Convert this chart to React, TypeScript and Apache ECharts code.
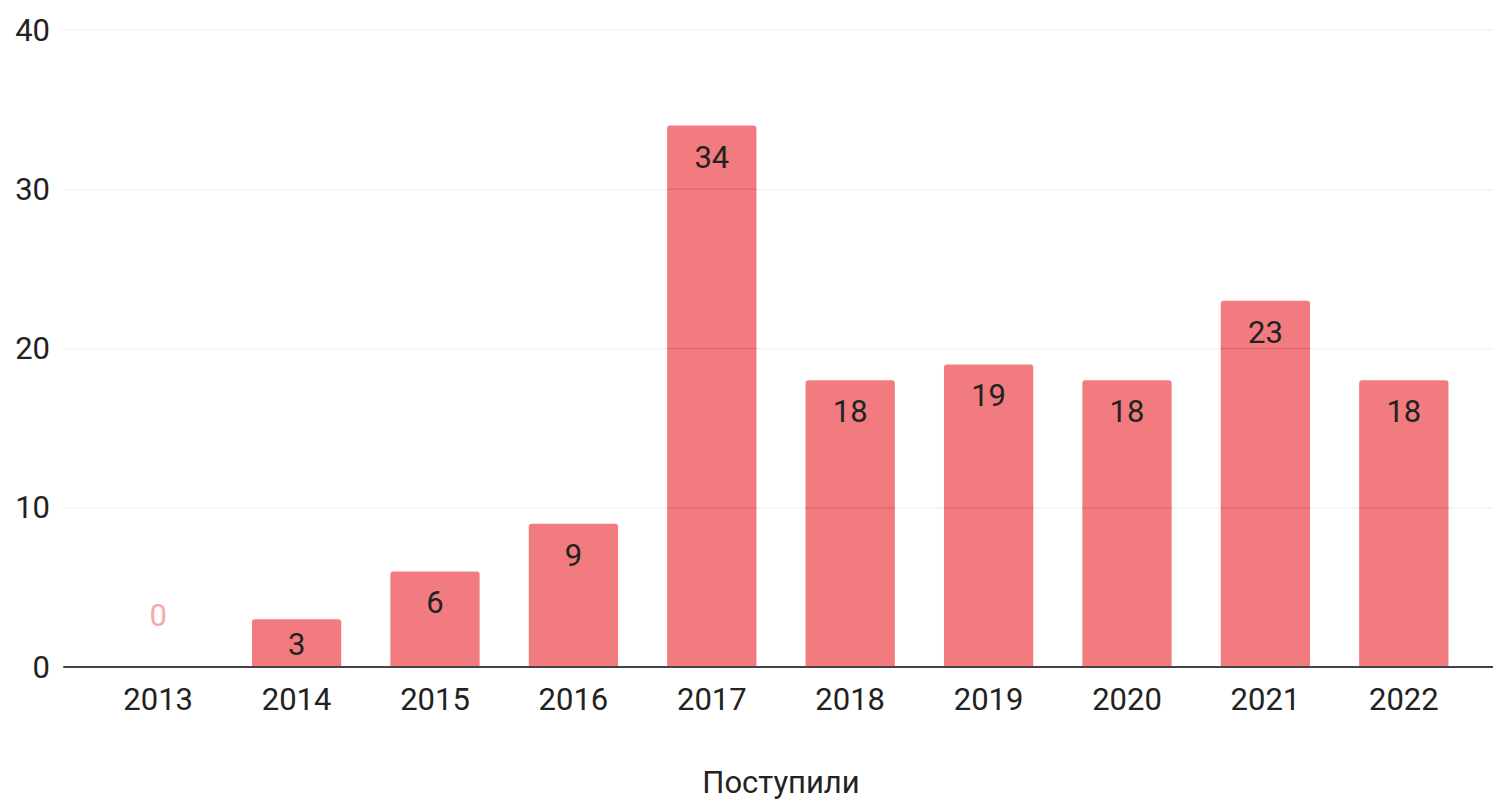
import React, { useEffect, useRef } from "react";
import * as echarts from "echarts";

const categories = ["2013", "2014", "2015", "2016", "2017", "2018", "2019", "2020", "2021", "2022"];
const values = [0, 3, 6, 9, 34, 18, 19, 18, 23, 18];
const yTicks = [0, 10, 20, 30, 40];
const axisTitle = "Поступили";

const BAR = "#F17B7E";
const FONT = "Roboto, 'Noto Sans', sans-serif";

export default function App() {
  const ref = useRef<HTMLDivElement>(null);
  useEffect(() => {
    if (!ref.current) return;
    const chart = echarts.init(ref.current, null, { renderer: "svg" });
    const barWidthRatio = 0.645;
    chart.setOption({
      animation: false,
      backgroundColor: "#ffffff",
      textStyle: { fontFamily: FONT },
      grid: [
        { left: 89, right: 20, top: 30, bottom: 136 },
        { left: 64, right: 0, top: 30, bottom: 136 },
      ],
      xAxis: [
        {
          type: "category",
          gridIndex: 0,
          data: categories,
          axisLine: { show: false },
          axisTick: { show: false },
          axisLabel: { color: "#222", fontSize: 31, margin: 17, fontFamily: FONT },
          name: axisTitle,
          nameLocation: "middle",
          nameGap: 100,
          nameTextStyle: { color: "#222", fontSize: 31, fontFamily: FONT },
        },
        {
          type: "value",
          gridIndex: 1,
          min: 0,
          max: 1,
          z: 5,
          axisLine: { show: true, onZero: false, lineStyle: { color: "#444", width: 2 } },
          axisTick: { show: false },
          axisLabel: { show: false },
          splitLine: { show: false },
        },
      ],
      yAxis: [
        {
          type: "value",
          gridIndex: 0,
          min: yTicks[0],
          max: yTicks[yTicks.length - 1],
          interval: 10,
          axisLine: { show: false },
          axisTick: { show: false },
          splitLine: { show: false },
          axisLabel: { color: "#222", fontSize: 31, margin: 39, fontFamily: FONT },
        },
        {
          type: "value",
          gridIndex: 1,
          min: yTicks[0],
          max: yTicks[yTicks.length - 1],
          interval: 10,
          z: 0,
          axisLine: { show: false },
          axisTick: { show: false },
          axisLabel: { show: false },
          splitLine: { show: true, lineStyle: { color: "#f3f3f3", width: 1.5 } },
        },
      ],
      series: [
        {
          type: "bar",
          xAxisIndex: 0,
          yAxisIndex: 0,
          barWidth: barWidthRatio * 100 + "%",
          z: 2,
          itemStyle: { color: BAR, borderRadius: [3, 3, 0, 0] },
          label: {
            show: true,
            position: "insideTop",
            distance: 16,
            color: "#222",
            fontSize: 31,
            fontFamily: FONT,
          },
          data: values.map((v) => {
            if (v === 0) {
              return {
                value: v,
                label: { position: "top", distance: 36, color: "#F6A9AB" },
              };
            }
            if (v < 5) {
              return { value: v, label: { distance: 10 } };
            }
            return v;
          }),
        },
        {
          type: "custom",
          xAxisIndex: 0,
          yAxisIndex: 0,
          z: 3,
          silent: true,
          data: values.map((v, i) => [i, v]),
          encode: { x: 0, y: 1 },
          renderItem: (params: any, api: any) => {
            const i = api.value(0);
            const v = api.value(1);
            const w = api.size([1, 0])[0] * barWidthRatio;
            const children: any[] = [];
            yTicks.forEach((t) => {
              if (t > 0 && t < v) {
                const p = api.coord([i, t]);
                children.push({
                  type: "line",
                  shape: { x1: p[0] - w / 2, y1: p[1], x2: p[0] + w / 2, y2: p[1] },
                  style: { stroke: "#DD6A6D", lineWidth: 1.5 },
                });
              }
            });
            return { type: "group", children };
          },
        },
      ],
    });
    return () => chart.dispose();
  }, []);
  return (
    <div
      ref={ref}
      style={{ position: "absolute", left: 0, top: 0, width: 1493, height: 803 }}
    />
  );
}
